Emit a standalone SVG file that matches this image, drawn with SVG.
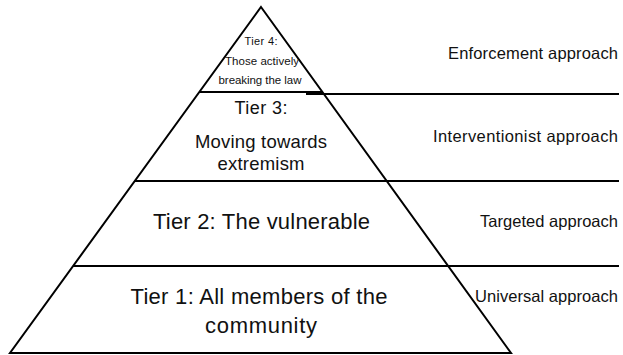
<svg xmlns="http://www.w3.org/2000/svg" width="623" height="355" viewBox="0 0 623 355">
<style>
.ln{stroke:#000;stroke-width:2;fill:none}
text{font-family:"Liberation Sans",Arial,sans-serif;fill:#111}
.c{text-anchor:middle}
.r{text-anchor:end;font-size:16.5px}
</style>
<rect width="623" height="355" fill="#fff"/>
<g id="connectors">
<polygon class="ln" points="261,7 511,353 10,353" stroke-linejoin="miter"/>
<line class="ln" x1="199" y1="92" x2="323" y2="92"/>
<line class="ln" x1="306" y1="94" x2="619" y2="94"/>
<line class="ln" x1="135" y1="181" x2="619" y2="181"/>
<line class="ln" x1="73" y1="266" x2="619" y2="266"/>
</g>
<g id="tier4">
<text class="c" x="261" y="45" font-size="11" textLength="33">Tier 4:</text>
<text class="c" x="262" y="65" font-size="11.5" textLength="74">Those actively</text>
<text class="c" x="260" y="84" font-size="11.5" textLength="83">breaking the law</text>
</g>
<g id="tier3">
<text class="c" x="261" y="114" font-size="18" textLength="53">Tier 3:</text>
<text class="c" x="261" y="148" font-size="18.5" textLength="132">Moving towards</text>
<text class="c" x="261" y="170" font-size="18.5" textLength="87">extremism</text>
</g>
<g id="tier2">
<text class="c" x="261.5" y="229" font-size="22" textLength="217">Tier 2: The vulnerable</text>
</g>
<g id="tier1">
<text class="c" x="259" y="304" font-size="22" textLength="257">Tier 1: All members of the</text>
<text class="c" x="261" y="333" font-size="22" textLength="112">community</text>
</g>
<g id="label-enforcement"><text class="r" x="618" y="59" textLength="170">Enforcement approach</text></g>
<g id="label-interventionist"><text class="r" x="618" y="142" textLength="185">Interventionist approach</text></g>
<g id="label-targeted"><text class="r" x="618" y="227" textLength="138">Targeted approach</text></g>
<g id="label-universal"><text class="r" x="618" y="302" textLength="143">Universal approach</text></g>
</svg>
